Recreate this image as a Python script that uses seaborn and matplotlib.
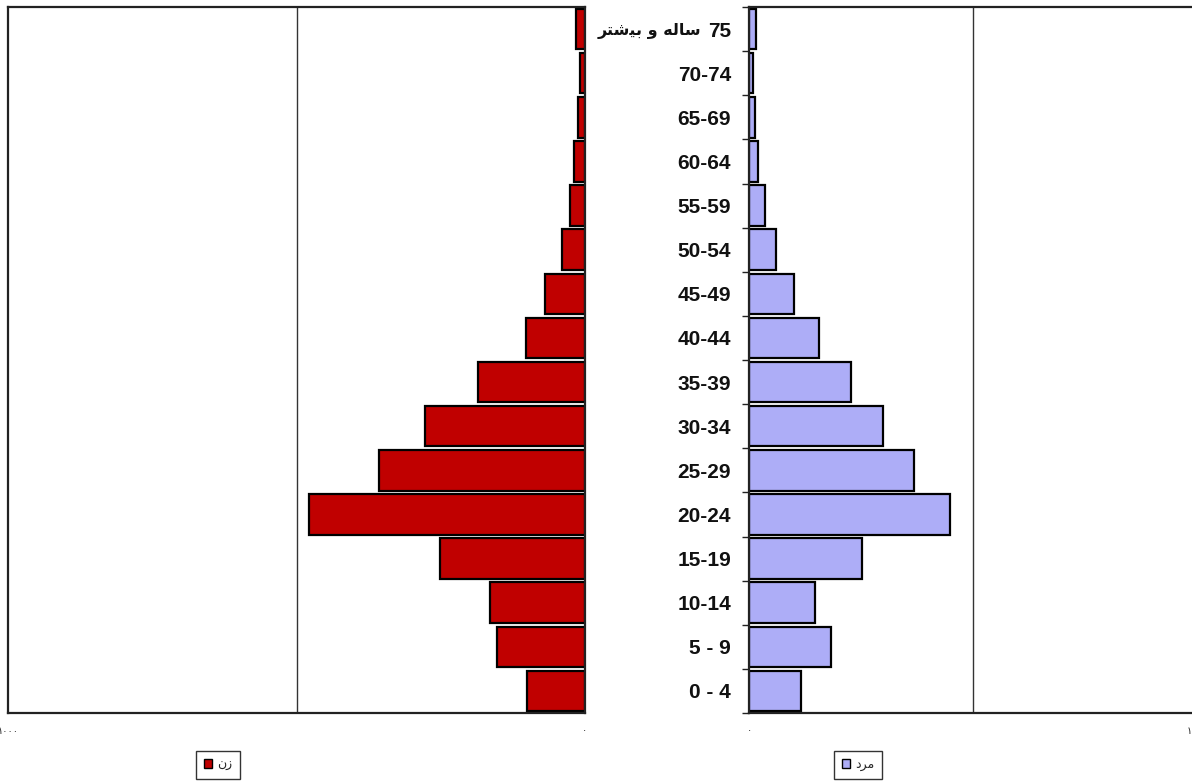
import numpy as np
import pandas as pd
import matplotlib
matplotlib.use('Agg')
import matplotlib.pyplot as plt
from matplotlib.patches import Patch
import matplotlib.transforms as mtransforms
import seaborn as sns

# age groups, top to bottom (Persian words written in visual order with presentation forms)
age_groups = ['75+', '70-74', '65-69', '60-64', '55-59', '50-54', '45-49', '40-44',
              '35-39', '30-34', '25-29', '20-24', '15-19', '10-14', '5 - 9', '0 - 4']
age_labels = ['75'] + age_groups[1:]
top_suffix = '\uFEAE\uFE98\uFEB7\uFEF4\uFE91 \uFEED \uFEEA\uFEDF\uFE8E\uFEB3'   # ساله و بیشتر
women = [16, 9, 12, 19, 26, 40, 69, 102, 185, 277, 357, 478, 251, 165, 153, 101]
men = [16, 9, 13, 20, 36, 60, 100, 156, 228, 299, 368, 449, 252, 147, 183, 116]
women_label = '\uFEE5\uFEAF'        # زن
men_label = '\uFEA9\uFEAE\uFEE3'    # مرد
tick_vals = [0, 500, 1000]
tick_text = ['\u06F0', '', '\u06F1\u06F0\u06F0\u06F0']

df = pd.DataFrame({'age': age_groups, 'women': women, 'men': men})

sns.set_style('white')
plt.rcParams['font.family'] = ['Liberation Sans', 'DejaVu Sans']

red = '#c00000'
blue = '#adadf7'

fig = plt.figure(figsize=(11.92, 7.83), dpi=100)
ax_l = fig.add_axes([8 / 1192, 70 / 783, 577 / 1192, 706 / 783])
ax_r = fig.add_axes([749 / 1192, 70 / 783, 448 / 1192, 706 / 783])

sns.barplot(data=df, x='women', y='age', order=age_groups, orient='h', ax=ax_l,
            color=red, saturation=1, width=0.92, edgecolor='black', linewidth=1.6)
sns.barplot(data=df, x='men', y='age', order=age_groups, orient='h', ax=ax_r,
            color=blue, saturation=1, width=0.92, edgecolor='black', linewidth=1.6)

ax_l.set_xlim(1000, 0)
ax_r.set_xlim(0, 1000)
n = len(age_groups)
for ax in (ax_l, ax_r):
    ax.set_ylim(n - 0.5, -0.5)
    ax.axvline(500, color='#333333', lw=1, zorder=0)
    ax.set_xticks(tick_vals)
    ax.set_xticklabels(tick_text, fontsize=7, family=['DejaVu Sans'])
    ax.tick_params(axis='x', length=3, pad=6)
    ax.set_xlabel('')
    ax.set_ylabel('')
    for s in ax.spines.values():
        s.set_color('#222222')
        s.set_linewidth(1.6)

ax_l.set_yticks([])
ax_r.set_yticks(np.arange(n))
ax_r.set_yticklabels(age_labels, fontsize=15, fontweight='bold', color='#111111')
ax_r.tick_params(axis='y', length=0, pad=13)
ax_r.set_yticks(np.arange(n + 1) - 0.5, minor=True)
ax_r.tick_params(axis='y', which='minor', length=5, width=1, color='#222222', left=True)
ax_r.spines['right'].set_visible(False)

# Persian part of the top label, to the left of "75"
trans = mtransforms.blended_transform_factory(ax_r.transAxes, ax_r.transData)
ax_r.text(-48 / 448, 0, top_suffix, transform=trans, ha='right', va='center_baseline',
          fontsize=11.5, fontweight='bold', color='#111111', family=['DejaVu Sans'],
          clip_on=False)

fig.legend(handles=[Patch(facecolor=red, edgecolor='black', label=women_label)],
           loc='center', bbox_to_anchor=(218 / 1192, 18 / 783), fontsize=9,
           handlelength=0.7, handleheight=0.7, handletextpad=0.4, fancybox=False,
           edgecolor='black', borderpad=0.6)
fig.legend(handles=[Patch(facecolor=blue, edgecolor='black', label=men_label)],
           loc='center', bbox_to_anchor=(858 / 1192, 18 / 783), fontsize=9,
           handlelength=0.7, handleheight=0.7, handletextpad=0.4, fancybox=False,
           edgecolor='black', borderpad=0.6)

fig.savefig('out.png', dpi=100)
